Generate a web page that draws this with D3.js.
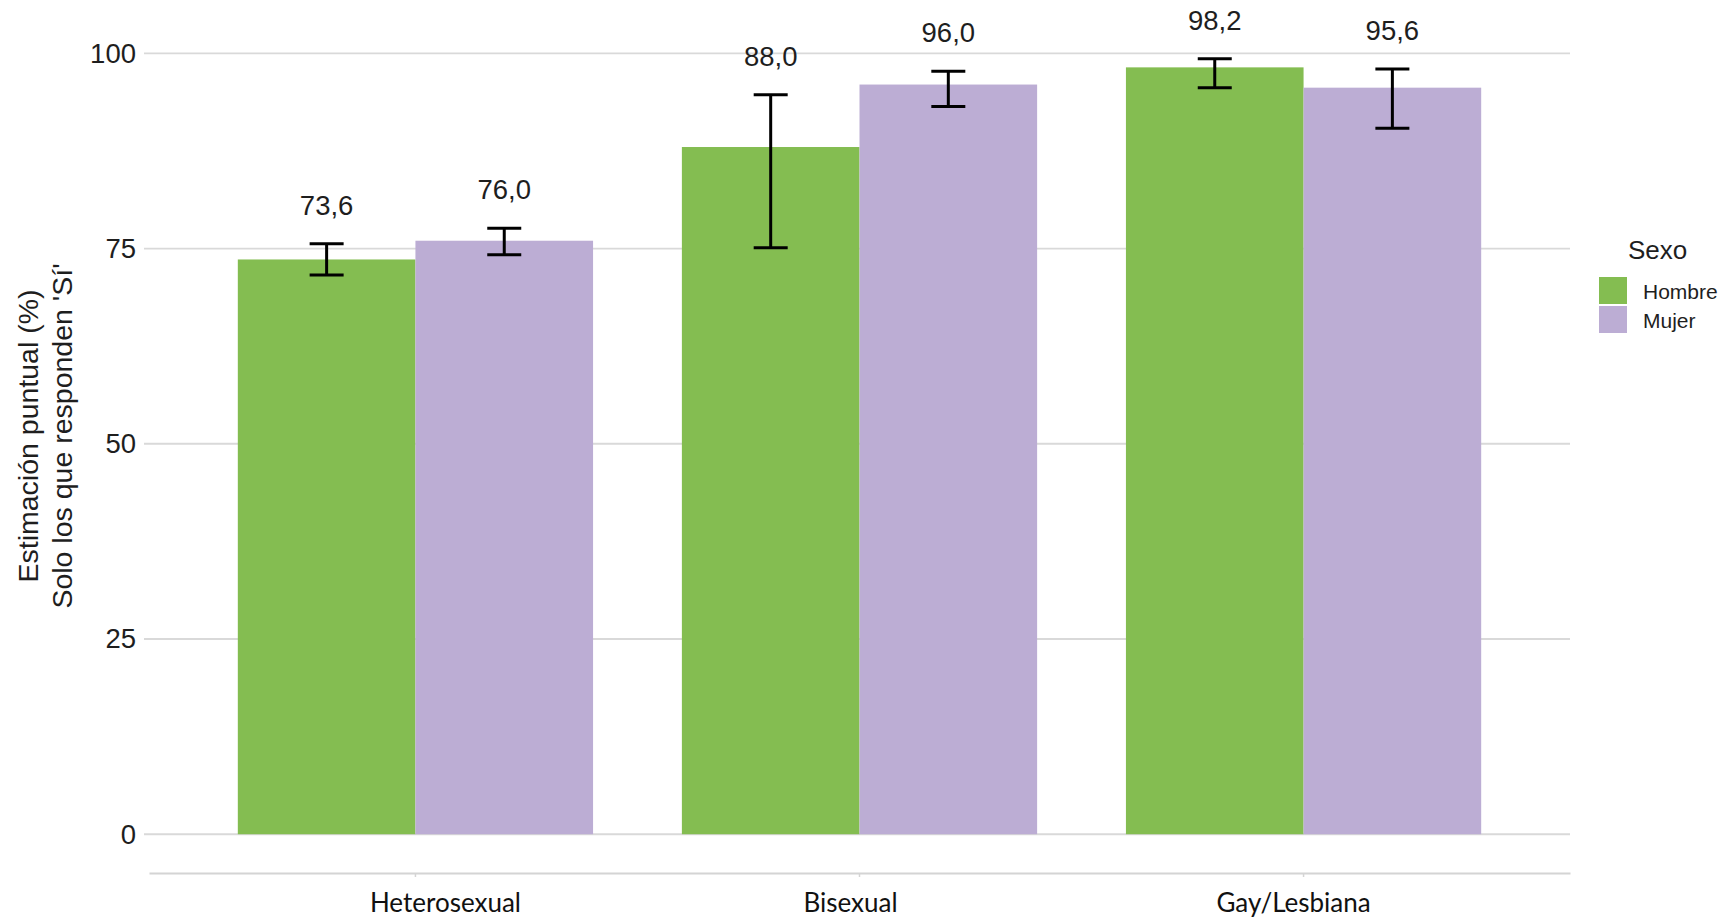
<!DOCTYPE html>
<html>
<head>
<meta charset="utf-8">
<script src="https://cdn.jsdelivr.net/npm/d3@7"></script>
<style>
  html, body { margin: 0; padding: 0; background: #ffffff; }
  svg { display: block; }
</style>
</head>
<body>
<svg id="chart" width="1724" height="920"></svg>
<script>
// ---- Data ----
const categories = ["Heterosexual", "Bisexual", "Gay/Lesbiana"];
const sexes = ["Hombre", "Mujer"];
const hombreValues = [73.6, 88.0, 98.2];
const mujerValues = [76.0, 96.0, 95.6];
const hombreLower = [71.6, 75.1, 95.6];
const hombreUpper = [75.6, 94.7, 99.3];
const mujerLower = [74.2, 93.2, 90.4];
const mujerUpper = [77.6, 97.7, 98.0];
const yTicks = [0, 25, 50, 75, 100];
const yTitleLines = ["Estimación puntual (%)", "Solo los que responden 'Sí'"];
const legendTitle = "Sexo";

// ---- Build rows ----
const rows = [];
categories.forEach((c, i) => {
  rows.push({ cat: c, sex: "Hombre", value: hombreValues[i], lo: hombreLower[i], hi: hombreUpper[i] });
  rows.push({ cat: c, sex: "Mujer", value: mujerValues[i], lo: mujerLower[i], hi: mujerUpper[i] });
});

// ---- Styles / layout ----
const colors = d3.scaleOrdinal().domain(sexes).range(["#84bd51", "#bcadd4"]);
const panel = { left: 149, right: 1570, top: 20, bottom: 873 };
const sansFont = "'Liberation Sans', Arial, Helvetica, sans-serif";
const catFont = "Lato, 'Open Sans', sans-serif";
const catLabelNudge = { "Heterosexual": 30, "Bisexual": -9, "Gay/Lesbiana": -10 };

const svg = d3.select("#chart");

const maxHi = d3.max(rows, d => d.hi);
const yLo = 0 - 0.05 * maxHi;
const yHi = maxHi + 0.05 * maxHi;
const y = d3.scaleLinear().domain([yLo, yHi]).range([panel.bottom, panel.top]);

const x0 = d3.scaleBand().domain(categories).range([panel.left, panel.right])
  .paddingInner(0.2).paddingOuter(0.2);
const x1 = d3.scaleBand().domain(sexes).range([0, x0.bandwidth()]).padding(0);

// Gridlines
svg.append("g").selectAll("line").data(yTicks).join("line")
  .attr("x1", 144).attr("x2", panel.right)
  .attr("y1", d => y(d)).attr("y2", d => y(d))
  .attr("stroke", "#d9d9d9").attr("stroke-width", 1.8);

// Y axis labels
const yAxis = svg.append("g")
  .attr("transform", `translate(144,0)`)
  .call(d3.axisLeft(y).tickValues(yTicks).tickSize(0).tickPadding(8).tickFormat(d3.format("d")));
yAxis.select(".domain").remove();
yAxis.selectAll("text")
  .attr("font-family", sansFont).attr("font-size", 27.5).attr("fill", "#1e1e1e");

// X axis
const xAxis = svg.append("g")
  .attr("transform", `translate(0,${panel.bottom})`)
  .call(d3.axisBottom(x0).tickSize(4).tickPadding(19).tickSizeOuter(0));
xAxis.select(".domain").attr("stroke", "#d4d4d4").attr("stroke-width", 2);
xAxis.selectAll(".tick line").attr("stroke", "#d4d4d4").attr("stroke-width", 1.5);
xAxis.selectAll(".tick text")
  .attr("font-family", catFont).attr("font-size", 26).attr("fill", "#111")
  .attr("dx", d => catLabelNudge[d] || 0)
  .attr("dy", "0.62em");

// Bars
const groups = svg.append("g").selectAll("g").data(rows).join("g");
groups.append("rect")
  .attr("x", d => x0(d.cat) + x1(d.sex))
  .attr("width", x1.bandwidth())
  .attr("y", d => y(d.value))
  .attr("height", d => y(0) - y(d.value))
  .attr("fill", d => colors(d.sex));

// Error bars
const capHalf = 17;
const eb = svg.append("g").attr("stroke", "#000").attr("stroke-width", 3).attr("fill", "none");
rows.forEach(d => {
  const cx = x0(d.cat) + x1(d.sex) + x1.bandwidth() / 2;
  eb.append("line").attr("x1", cx).attr("x2", cx).attr("y1", y(d.hi)).attr("y2", y(d.lo));
  eb.append("line").attr("x1", cx - capHalf).attr("x2", cx + capHalf).attr("y1", y(d.hi)).attr("y2", y(d.hi));
  eb.append("line").attr("x1", cx - capHalf).attr("x2", cx + capHalf).attr("y1", y(d.lo)).attr("y2", y(d.lo));
});

// Value labels
const fmt = v => d3.format(".1f")(v).replace(".", ",");
svg.append("g").selectAll("text").data(rows).join("text")
  .attr("x", d => x0(d.cat) + x1(d.sex) + x1.bandwidth() / 2)
  .attr("y", d => y(d.hi) - 29)
  .attr("text-anchor", "middle")
  .attr("font-family", sansFont).attr("font-size", 27.5).attr("fill", "#1e1e1e")
  .text(d => fmt(d.value));

// Y title
const yTitle = svg.append("text")
  .attr("transform", `translate(0,436) rotate(-90)`)
  .attr("text-anchor", "middle")
  .attr("font-family", sansFont).attr("font-size", 28.5).attr("fill", "#1e1e1e");
yTitle.selectAll("tspan").data(yTitleLines).join("tspan")
  .attr("x", 0)
  .attr("y", (d, i) => 38 + i * 34)
  .text(d => d);

// Legend
const legend = svg.append("g").attr("transform", "translate(1599,0)");
legend.append("text")
  .attr("x", 29).attr("y", 259)
  .attr("font-family", sansFont).attr("font-size", 26).attr("fill", "#1e1e1e")
  .text(legendTitle);
const li = legend.selectAll("g.item").data(sexes).join("g")
  .attr("class", "item")
  .attr("transform", (d, i) => `translate(0,${277 + i * 29})`);
li.append("rect").attr("width", 28).attr("height", 27).attr("fill", d => colors(d));
li.append("text").attr("x", 44).attr("y", 22)
  .attr("font-family", sansFont).attr("font-size", 21).attr("fill", "#1e1e1e")
  .text(d => d);
</script>
</body>
</html>
